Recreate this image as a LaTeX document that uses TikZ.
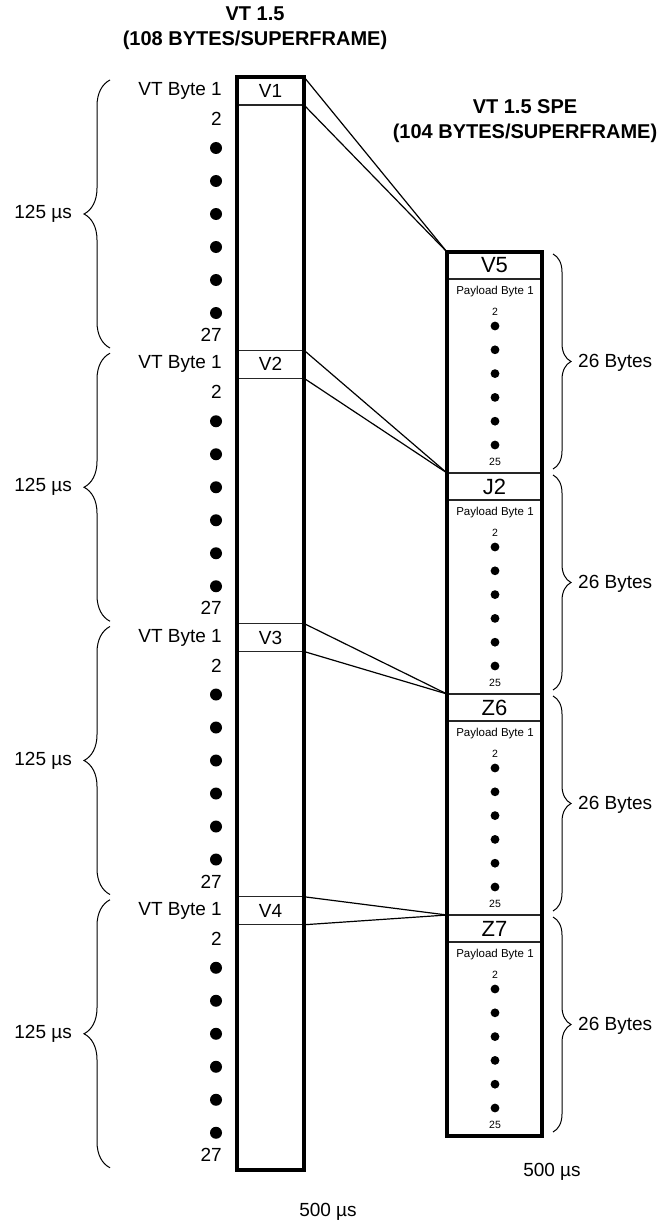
\documentclass[tikz,border=0pt]{standalone}
\usepackage{fontspec}
\setmainfont{Liberation Sans}
\usetikzlibrary{decorations.pathreplacing,positioning}

\begin{document}
\begin{tikzpicture}[
  x=1pt, y=-1pt,
  frame/.style={rectangle, draw, line width=4.5pt, outer sep=0pt, inner sep=0pt},
  cell/.style={rectangle, draw=black!85, line width=1.2pt, outer sep=0pt, inner sep=0pt, font=\fontsize{19}{22}\selectfont},
  lbl/.style={inner sep=0pt, font=\fontsize{19}{22}\selectfont},
  small/.style={inner sep=0pt, font=\fontsize{11.5}{13}\selectfont},
  tiny/.style={inner sep=0pt, font=\fontsize{10.5}{12}\selectfont},
  title/.style={align=center, inner sep=0pt, font=\fontsize{20}{25}\selectfont\bfseries},
  link/.style={line width=1.2pt},
  brc/.style={decorate, line width=1pt, decoration={brace, amplitude=#1}}
]
  \useasboundingbox (0,0) rectangle (661,1225);

  \node[title] (vttitle) at (255,28) {VT 1.5\\(108 BYTES/SUPERFRAME)};
  \node[title] (spetitle) at (525,121) {VT 1.5 SPE\\(104 BYTES/SUPERFRAME)};

  \foreach \g/\v [evaluate=\g as \T using 77+273.25*\g] in {0/V1,1/V2,2/V3,3/V4} {
    \node[cell, minimum width=67, minimum height=28, anchor=north west] (vt\g) at (237,\T) {\v};
    \node[lbl, anchor=east] (byte\g) at (222,\T+14) {VT Byte 1};
    \node[lbl, anchor=east] (two\g) at (222,\T+42) {2};
    \foreach \k in {0,...,5}
      \fill (216,\T+71+33*\k) circle (6pt);
    \node[lbl, anchor=east] (last\g) at (222,\T+258) {27};
    \draw[brc=26] (110,\T+271) -- (110,\T+3);
    \node[lbl, anchor=east] (time\g) at (72,\T+137) {125 µs};
  }

  \foreach \g/\v [evaluate=\g as \T using 252+221*\g] in {0/V5,1/J2,2/Z6,3/Z7} {
    \node[cell, font=\fontsize{22}{24}\selectfont, minimum width=95, minimum height=27, anchor=north west] (spe\g) at (447,\T) {\v};
    \node[small] (pay\g) at (495,\T+40) {Payload Byte 1};
    \node[tiny] (ptwo\g) at (495,\T+60) {2};
    \foreach \k in {0,...,5}
      \fill (495,\T+74+23.8*\k) circle (4.4pt);
    \node[tiny] (plast\g) at (495,\T+210) {25};
    \draw[brc=18] (553,\T+2) -- (553,\T+217);
    \node[lbl, anchor=west] (count\g) at (578,\T+111) {26 Bytes};
  }

  \node[frame, minimum width=67, minimum height=1093, anchor=north west] (vt) at (237,77) {};
  \node[frame, minimum width=95, minimum height=884, anchor=north west] (spe) at (447,252) {};

  \foreach \g in {0,...,3} {
    \draw[link] (vt\g.north east) -- (spe\g.north west);
    \draw[link] (vt\g.south east) -- (spe\g.north west);
  }

  \node[lbl] (vttime) at (328,1212) {500 µs};
  \node[lbl] (spetime) at (552,1172) {500 µs};
\end{tikzpicture}
\end{document}
